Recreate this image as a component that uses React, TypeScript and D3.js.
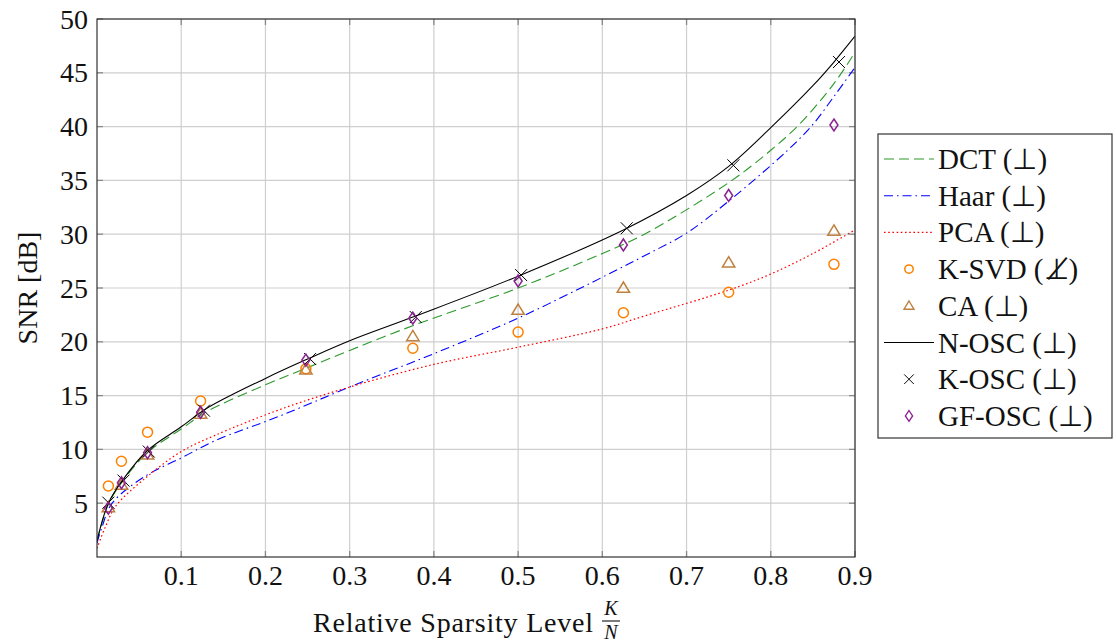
import React from 'react';
import * as d3 from 'd3';

// ---- data ----
const xTicks = [0.1, 0.2, 0.3, 0.4, 0.5, 0.6, 0.7, 0.8, 0.9];
const yTicks = [5, 10, 15, 20, 25, 30, 35, 40, 45, 50];

const dctX = [0, 0.0135, 0.03, 0.06, 0.1, 0.13, 0.2, 0.25, 0.3, 0.375, 0.5, 0.6, 0.65, 0.752, 0.8, 0.835, 0.875, 0.9];
const dctY = [1.5, 4.9, 7.0, 9.7, 11.9, 13.5, 16.0, 17.6, 19.2, 21.5, 25.0, 28.2, 30.0, 34.9, 37.8, 40.3, 44.0, 46.9];

const haarX = [0, 0.006, 0.018, 0.057, 0.1, 0.14, 0.217, 0.3, 0.4, 0.5, 0.6, 0.65, 0.7, 0.752, 0.82, 0.85, 0.875, 0.9];
const haarY = [1.3, 2.8, 5.0, 7.5, 9.2, 10.8, 13.1, 15.8, 18.9, 22.2, 26.0, 28.0, 30.1, 33.2, 37.8, 40.2, 42.8, 45.5];

const pcaX = [0, 0.01, 0.022, 0.057, 0.1, 0.14, 0.217, 0.3, 0.4, 0.5, 0.6, 0.65, 0.75, 0.8, 0.85, 0.9];
const pcaY = [0.8, 2.8, 4.7, 7.3, 9.8, 11.3, 13.7, 15.8, 17.9, 19.5, 21.2, 22.4, 24.8, 26.3, 28.2, 30.4];

const noscX = [0, 0.0135, 0.03, 0.06, 0.1, 0.13, 0.2, 0.25, 0.3, 0.375, 0.5, 0.625, 0.7, 0.75, 0.8, 0.85, 0.875, 0.9];
const noscY = [1.5, 5.0, 7.1, 9.9, 12.1, 13.8, 16.6, 18.4, 20.1, 22.3, 26.1, 30.4, 33.6, 36.3, 39.9, 43.8, 46.0, 48.4];

const markerX = [0.0135, 0.029, 0.06, 0.123, 0.248, 0.375, 0.5, 0.625, 0.75, 0.875];
const ksvdY = [6.6, 8.9, 11.6, 14.5, 17.5, 19.4, 20.9, 22.7, 24.6, 27.2];
const caY = [4.6, 6.7, 9.5, 13.3, 17.4, 20.5, 22.95, 25.0, 27.35, 30.3];
const gfoscY = [4.55, 6.9, 9.7, 13.45, 18.3, 22.2, 25.65, 29.0, 33.6, 40.15];

const koscX = [0.0135, 0.0315, 0.0615, 0.127, 0.253, 0.3785, 0.5036, 0.629, 0.7556, 0.881];
const koscY = [5.05, 7.1, 9.8, 13.6, 18.4, 22.3, 26.2, 30.55, 36.4, 46.0];

const legendLabels = ['DCT (⊥)', 'Haar (⊥)', 'PCA (⊥)', 'K-SVD (⊥\u0338)', 'CA (⊥)', 'N-OSC (⊥)', 'K-OSC (⊥)', 'GF-OSC (⊥)'];

// ---- styles ----
const FONT = '"Liberation Serif", "Times New Roman", Tinos';
const C_DCT = '#2a9a2a';
const C_HAAR = '#0000ff';
const C_PCA = '#ff0000';
const C_KSVD = '#ff8000';
const C_CA = '#bf8040';
const C_GF = '#8a2290';
const DASH_DCT = '10,5';
const DASH_HAAR = '9,4,1.5,4';
const DASH_PCA = '1.6,2.6';

const zip = (xs: number[], ys: number[]) => xs.map((v, i) => [v, ys[i]] as [number, number]);

const triPath = 'M0,-6 L6.2,4.3 L-6.2,4.3 Z';
const diaPath = 'M0,-6 L4,0 L0,6 L-4,0 Z';
const crossPath = 'M-6,-6 L6,6 M-6,6 L6,-6';

export default function App() {
  const L = 97, R = 855, T = 19, B = 557;
  const x = d3.scaleLinear().domain([0, 0.9]).range([L, R]);
  const y = d3.scaleLinear().domain([0, 50]).range([B, T]);
  const line = d3.line<[number, number]>().x(d => x(d[0])).y(d => y(d[1])).curve(d3.curveCatmullRom.alpha(0.5));

  const legendY0 = 159, legendDy = 36.7;
  const lgX0 = 884, lgX1 = 934, lgM = 909, lgT = 938;

  const txt: React.CSSProperties = { fontFamily: FONT };

  return (
    <svg width={1116} height={644} style={{ position: 'absolute', left: 0, top: 0, background: '#fff' }}>
      <defs>
        <clipPath id="plot"><rect x={L} y={T} width={R - L} height={B - T} /></clipPath>
      </defs>
      <rect x={0} y={0} width={1116} height={644} fill="#fff" />
      {/* grid */}
      {xTicks.map(t => <line key={'gx' + t} x1={x(t)} x2={x(t)} y1={T} y2={B} stroke="#cfcfcf" strokeWidth={1.2} />)}
      {yTicks.map(t => <line key={'gy' + t} x1={L} x2={R} y1={y(t)} y2={y(t)} stroke="#cfcfcf" strokeWidth={1.2} />)}
      {/* ticks (inside, all sides) */}
      {xTicks.map(t => (
        <g key={'tx' + t} stroke="#8a8a8a" strokeWidth={1.3}>
          <line x1={x(t)} x2={x(t)} y1={B} y2={B - 6} />
          <line x1={x(t)} x2={x(t)} y1={T} y2={T + 6} />
        </g>
      ))}
      {yTicks.map(t => (
        <g key={'ty' + t} stroke="#8a8a8a" strokeWidth={1.3}>
          <line x1={L} x2={L + 6} y1={y(t)} y2={y(t)} />
          <line x1={R} x2={R - 6} y1={y(t)} y2={y(t)} />
        </g>
      ))}
      {/* curves */}
      <g clipPath="url(#plot)" fill="none">
        <path d={line(zip(dctX, dctY)) || ''} stroke={C_DCT} strokeWidth={1.1} strokeDasharray={DASH_DCT} />
        <path d={line(zip(haarX, haarY)) || ''} stroke={C_HAAR} strokeWidth={1.1} strokeDasharray={DASH_HAAR} />
        <path d={line(zip(pcaX, pcaY)) || ''} stroke={C_PCA} strokeWidth={1.2} strokeDasharray={DASH_PCA} />
      </g>
      {/* markers */}
      {zip(markerX, ksvdY).map((d, i) => (
        <circle key={'ks' + i} cx={x(d[0])} cy={y(d[1])} r={5} fill="none" stroke={C_KSVD} strokeWidth={1.5} />
      ))}
      {zip(markerX, caY).map((d, i) => (
        <path key={'ca' + i} d={triPath} transform={`translate(${x(d[0])},${y(d[1])})`} fill="none" stroke={C_CA} strokeWidth={1.5} />
      ))}
      <g clipPath="url(#plot)" fill="none">
        <path d={line(zip(noscX, noscY)) || ''} stroke="#000" strokeWidth={1.1} />
      </g>
      {zip(koscX, koscY).map((d, i) => (
        <path key={'ko' + i} d={crossPath} transform={`translate(${x(d[0])},${y(d[1])})`} fill="none" stroke="#000" strokeWidth={1} />
      ))}
      {zip(markerX, gfoscY).map((d, i) => (
        <path key={'gf' + i} d={diaPath} transform={`translate(${x(d[0])},${y(d[1])})`} fill="none" stroke={C_GF} strokeWidth={1.5} />
      ))}
      {/* frame */}
      <rect x={L} y={T} width={R - L} height={B - T} fill="none" stroke="#333" strokeWidth={1.2} />
      {/* tick labels */}
      {xTicks.map(t => (
        <text key={'lx' + t} style={txt} x={x(t)} y={585} fontSize={28} textAnchor="middle" fill="#111">{t.toFixed(1)}</text>
      ))}
      {yTicks.map(t => (
        <text key={'ly' + t} style={txt} x={88} y={y(t) + 9.5} fontSize={28} textAnchor="end" fill="#111">{t}</text>
      ))}
      {/* axis labels */}
      <text style={txt} x={313} y={632} fontSize={28} fill="#111" textLength={280} lengthAdjust="spacing">Relative Sparsity Level</text>
      <text style={txt} x={611} y={615} fontSize={20} textAnchor="middle" fontStyle="italic" fill="#111">K</text>
      <line x1={602} x2={620} y1={621} y2={621} stroke="#111" strokeWidth={1.1} />
      <text style={txt} x={611} y={639} fontSize={20} textAnchor="middle" fontStyle="italic" fill="#111">N</text>
      <text style={txt} transform="translate(37,288) rotate(-90)" fontSize={28} textAnchor="middle" fill="#111">SNR [dB]</text>
      {/* legend */}
      <rect x={878} y={134} width={234} height={304} fill="#fff" stroke="#333" strokeWidth={1.2} />
      {legendLabels.map((lab, i) => {
        const cy = legendY0 + i * legendDy;
        let sample: React.ReactNode = null;
        if (i === 0) sample = <line x1={lgX0} x2={lgX1} y1={cy} y2={cy} stroke={C_DCT} strokeWidth={1.1} strokeDasharray={DASH_DCT} />;
        if (i === 1) sample = <line x1={lgX0} x2={lgX1} y1={cy} y2={cy} stroke={C_HAAR} strokeWidth={1.1} strokeDasharray={DASH_HAAR} />;
        if (i === 2) sample = <line x1={lgX0} x2={lgX1} y1={cy} y2={cy} stroke={C_PCA} strokeWidth={1.2} strokeDasharray={DASH_PCA} />;
        if (i === 3) sample = <circle cx={lgM} cy={cy} r={4.2} fill="none" stroke={C_KSVD} strokeWidth={1.5} />;
        if (i === 4) sample = <path d={triPath} transform={`translate(${lgM},${cy}) scale(0.8)`} fill="none" stroke={C_CA} strokeWidth={1.8} />;
        if (i === 5) sample = <line x1={lgX0} x2={lgX1} y1={cy} y2={cy} stroke="#000" strokeWidth={1.1} />;
        if (i === 6) sample = <path d={crossPath} transform={`translate(${lgM},${cy}) scale(0.8)`} fill="none" stroke="#000" strokeWidth={1.2} />;
        if (i === 7) sample = <path d={diaPath} transform={`translate(${lgM},${cy}) scale(0.9)`} fill="none" stroke={C_GF} strokeWidth={1.5} />;
        return (
          <g key={'lg' + i}>
            {sample}
            <text style={txt} x={lgT} y={cy + 10} fontSize={29} fill="#111">{lab}</text>
          </g>
        );
      })}
    </svg>
  );
}
